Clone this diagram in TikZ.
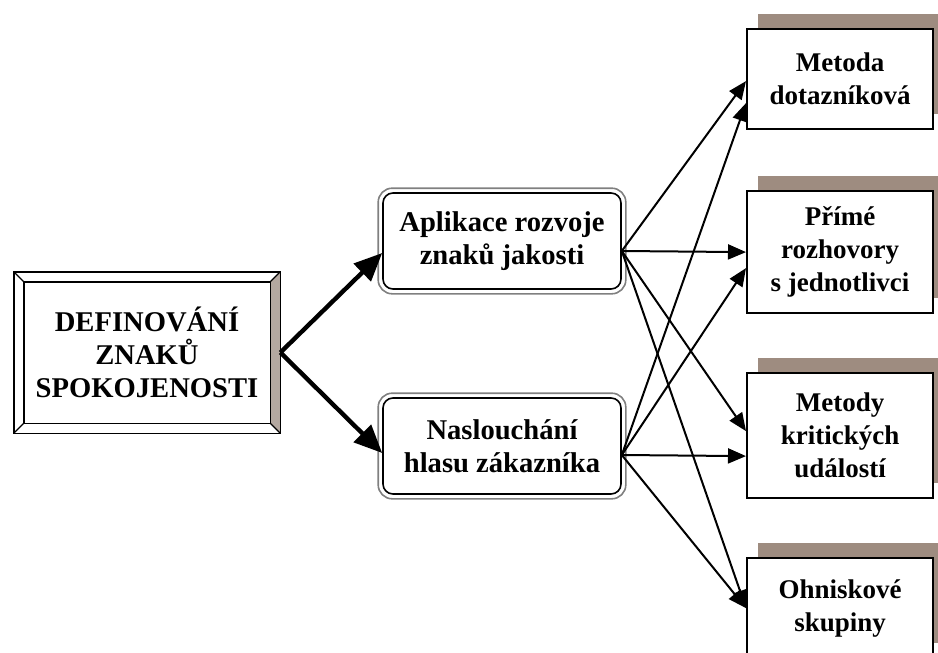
\documentclass[tikz,border=0pt]{standalone}
\usepackage{fontspec}
\setmainfont{Liberation Serif}
\usetikzlibrary{arrows.meta,shadows}
\definecolor{shadowbrown}{RGB}{158,140,128}
\definecolor{bevelbrown}{RGB}{180,168,160}

\begin{document}
\begin{tikzpicture}[
            x=0.5pt, y=-0.5pt,
            every node/.style={font=\fontsize{13.5}{16.5}\selectfont\bfseries, align=center, inner sep=0pt},
            big text/.style={font=\fontsize{14.3}{16.5}\selectfont\bfseries},
            listen/.style={draw, big text, line width=0.8pt, rounded corners=5pt, minimum width=119pt, minimum height=48pt},
            method/.style={draw, line width=1.1pt, fill=white, minimum width=93pt, anchor=north west,
                drop shadow={shadow xshift=5.5pt, shadow yshift=7.5pt, fill=shadowbrown, opacity=1}},
            thin arrow/.style={-{Triangle[length=9pt,width=7.5pt]}, line width=1pt},
            thick arrow/.style={-{Triangle[length=14pt,width=12pt]}, line width=2.2pt}
        ]
            \useasboundingbox (0,0) rectangle (938,653);
            \clip (0,0) rectangle (938,653);

            % bevelled box on the left
            \node[big text, minimum width=133pt, minimum height=80.5pt] (defin) at (147,352.5)
                {DEFINOVÁNÍ\\ZNAKŮ\\SPOKOJENOSTI};
            \fill[bevelbrown] (defin.north east) -- (defin.south east)
                -- ([shift={(-10,-10)}]defin.south east) -- ([shift={(-10,10)}]defin.north east) -- cycle;
            \draw[line width=0.9pt] (defin.north west) rectangle (defin.south east);
            \draw[line width=0.9pt] ([shift={(10,10)}]defin.north west) rectangle ([shift={(-10,-10)}]defin.south east);
            \draw[line width=0.6pt] (defin.north west) -- ++(10,10);
            \draw[line width=0.6pt] (defin.north east) -- ++(-10,10);
            \draw[line width=0.6pt] (defin.south west) -- ++(10,-10);
            \draw[line width=0.6pt] (defin.south east) -- ++(-10,-10);

            % rounded boxes in the middle
            \node[listen] (apl) at (502,241) {Aplikace rozvoje\\znaků jakosti};
            \node[listen] (nasl) at (502,446) {Naslouchání\\hlasu zákazníka};
            \foreach \n in {apl,nasl} {
                \draw[gray, line width=0.8pt, rounded corners=7pt]
                    ([shift={(-4,-4)}]\n.north west) rectangle ([shift={(4,4)}]\n.south east);
            }

            % methods on the right
            \node[method, minimum height=50pt] (dotaz) at (746,28) {Metoda\\dotazníková};
            \node[method, minimum height=61pt] (rozhov) at (746,190) {Přímé\\rozhovory\\s jednotlivci};
            \node[method, minimum height=62.5pt] (krit) at (746,372) {Metody\\kritických\\událostí};
            \node[method, minimum height=50pt] (ohnis) at (746,557) {Ohniskové\\skupiny};

            \coordinate (apl-in) at ([yshift=-6pt]apl.west);
            \coordinate (nasl-in) at ([yshift=-3.5pt]nasl.west);
            \coordinate (apl-out) at ([yshift=-5pt]apl.east);
            \coordinate (nasl-out) at ([yshift=-4.5pt]nasl.east);
            \coordinate (dotaz-a) at ([yshift=-1pt]dotaz.west);
            \coordinate (dotaz-b) at ([yshift=-12pt]dotaz.west);
            \coordinate (rozhov-b) at ([yshift=-8pt]rozhov.west);
            \coordinate (krit-a) at ([yshift=2.25pt]krit.west);
            \coordinate (krit-b) at ([yshift=-10.25pt]krit.west);

            \draw[thick arrow] (defin.east) -- (apl-in);
            \draw[thick arrow] (defin.east) -- (nasl-in);

            \foreach \from/\to in {apl-out/dotaz-a, apl-out/rozhov.west, apl-out/krit-a, apl-out/ohnis.west,
                                    nasl-out/dotaz-b, nasl-out/rozhov-b, nasl-out/krit-b, nasl-out/ohnis.west} {
                \draw[thin arrow] (\from) -- (\to);
            }
        \end{tikzpicture}
\end{document}
